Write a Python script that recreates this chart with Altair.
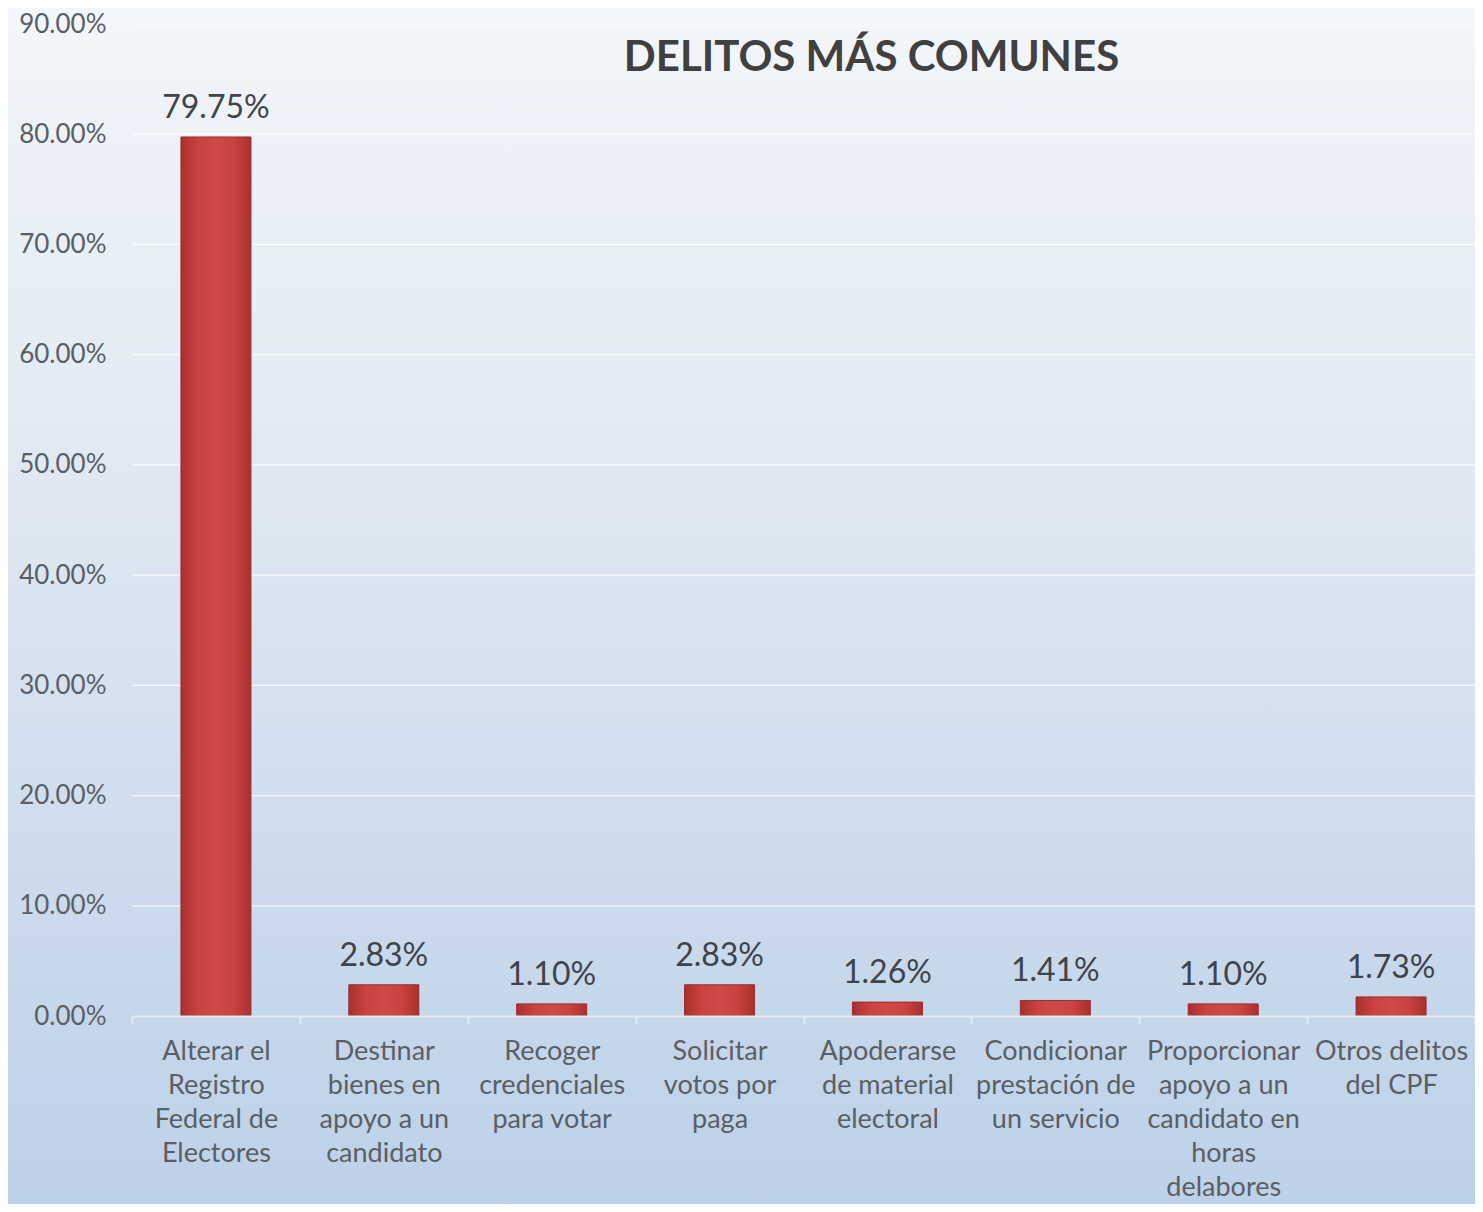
import altair as alt
import pandas as pd

categories = [
    "Alterar el|Registro|Federal de|Electores",
    "Destinar|bienes en|apoyo a un|candidato",
    "Recoger|credenciales|para votar",
    "Solicitar|votos por|paga",
    "Apoderarse|de material|electoral",
    "Condicionar|prestación de|un servicio",
    "Proporcionar|apoyo a un|candidato en|horas|delabores",
    "Otros delitos|del CPF",
]
values = [79.75, 2.83, 1.10, 2.83, 1.26, 1.41, 1.10, 1.73]
y_ticks = [0, 10, 20, 30, 40, 50, 60, 70, 80, 90]
title_text = "DELITOS MÁS COMUNES"

W, H = 1343, 992
PL, PT, PB = 124, 16, 188

df = pd.DataFrame({"cat": categories, "val": values})
df["lbl"] = [f"{v:.2f}%" for v in values]
grid_df = pd.DataFrame({"val": y_ticks[1:]})

yscale = alt.Scale(domain=[0, 90], nice=False)
yaxis = alt.Axis(
    values=y_ticks,
    labelExpr="format(datum.value, '.2f') + '%'",
    labelFont="Lato", labelFontSize=26, labelColor="#5a5f66",
    labelPadding=26,
    domain=False, ticks=False,
    grid=False, zindex=1,
)

bg = alt.Chart(pd.DataFrame({"k": [0]})).mark_rect(
    fill=alt.Gradient(
        gradient="linear",
        x1=0, x2=0, y1=0, y2=1,
        stops=[
            alt.GradientStop(color="#f3f6fa", offset=0),
            alt.GradientStop(color="#dfe8f2", offset=0.4),
            alt.GradientStop(color="#bcd0e8", offset=1),
        ],
    )
).encode(
    x=alt.value(-PL), x2=alt.value(W + 20),
    y=alt.value(-PT), y2=alt.value(H + PB + 20),
)

grid = alt.Chart(grid_df).mark_rule(color="#ffffff", opacity=0.8, strokeWidth=1.2).encode(
    y=alt.Y("val:Q", title=None, scale=yscale, axis=yaxis),
    x=alt.value(0), x2=alt.value(W),
)

base = alt.Chart(df)

xenc = alt.X(
    "cat:N", sort=categories, title=None,
    scale=alt.Scale(paddingInner=0, paddingOuter=0),
    axis=alt.Axis(
        labelAngle=0,
        labelExpr="split(datum.label, '|')",
        labelFont="Lato", labelFontSize=27, labelColor="#5a5f66",
        labelLineHeight=34, labelPadding=14, labelLimit=0,
        labelBaseline="top",
        domainColor="#e4eaf1", domainWidth=2,
        tickColor="#e4eaf1", tickWidth=2, tickSize=8, tickBand="extent",
        grid=False, zindex=1,
    ),
)

bars = base.mark_bar(
    size=70,
    fill=alt.Gradient(
        gradient="linear",
        x1=0, x2=1, y1=0, y2=0,
        stops=[
            alt.GradientStop(color="#a93030", offset=0),
            alt.GradientStop(color="#c94340", offset=0.25),
            alt.GradientStop(color="#cf4a46", offset=0.5),
            alt.GradientStop(color="#c94340", offset=0.75),
            alt.GradientStop(color="#a93030", offset=1),
        ],
    ),
    stroke="#9e2b2b", strokeWidth=1,
).encode(x=xenc, y=alt.Y("val:Q", title=None, scale=yscale, axis=yaxis))

labels = base.mark_text(
    baseline="bottom", dy=-12, font="Lato", fontSize=32, color="#3f444a"
).encode(x=alt.X("cat:N", sort=categories), y=alt.Y("val:Q", scale=yscale), text="lbl:N")

chart = alt.layer(bg, grid, bars, labels).properties(
    width=W, height=H,
    title=alt.TitleParams(
        title_text, font="Lato", fontSize=42, fontWeight="bold",
        color="#404040", anchor="middle", dx=68, dy=72, offset=0,
    ),
    autosize=alt.AutoSizeParams(type="none"),
    padding={"left": PL, "top": PT, "right": 0, "bottom": PB},
).configure_view(stroke=None).configure(background="#dde3ea")

chart.save("out.html", embed_options={"renderer": "svg", "actions": False})
